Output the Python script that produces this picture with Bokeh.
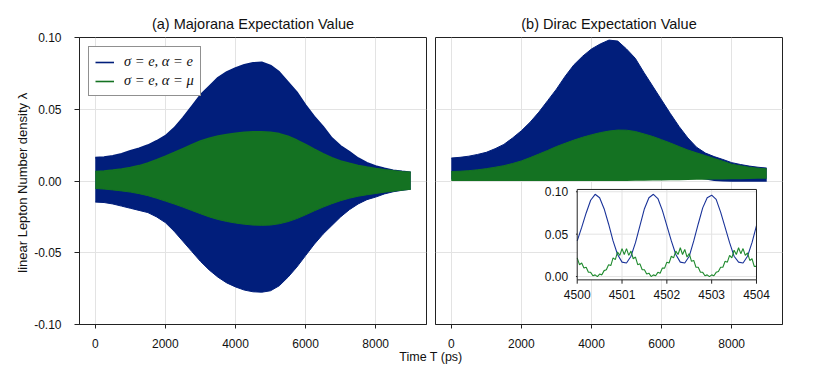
from bokeh.plotting import figure
from bokeh.layouts import row, column
from bokeh.models import Range1d, FixedTicker, Legend, LegendItem, Label
from bokeh.core.properties import value
from bokeh.embed import file_html
from bokeh.resources import INLINE

FONT = "Liberation Sans"
BLUE = "#011e7b"
GREEN = "#147222"
LINE_BLUE = "#1a3399"
LINE_GREEN = "#1f8a2e"
GRID = "#e3e3e3"
FRAME = "#222222"
TXT = "#111111"

# ---- data (envelopes) ----
time_t = [0, 250, 500, 750, 1000, 1250, 1500, 1750, 2000, 2250, 2500, 2750,
          3000, 3250, 3500, 3750, 4000, 4250, 4500, 4750, 5000, 5250, 5500, 5750,
          6000, 6250, 6500, 6750, 7000, 7250, 7500, 7750, 8000, 8250, 8500, 8750, 9000]

# (a) Majorana
maj_ee_upper = [0.0163, 0.0167, 0.0175, 0.019, 0.021, 0.0228, 0.025, 0.028, 0.0315, 0.037,
                0.044, 0.052, 0.060, 0.066, 0.072, 0.076, 0.0788, 0.081, 0.0823, 0.0827,
                0.0805, 0.076, 0.069, 0.062, 0.053, 0.045, 0.038, 0.030, 0.0245, 0.0205,
                0.016, 0.0128, 0.0105, 0.0088, 0.0075, 0.0067, 0.0061]
maj_ee_lower = [-0.0147, -0.015, -0.016, -0.0175, -0.019, -0.0205, -0.022, -0.025, -0.029, -0.035,
                -0.042, -0.049, -0.056, -0.062, -0.067, -0.071, -0.0738, -0.076, -0.0772, -0.0775,
                -0.0765, -0.073, -0.067, -0.060, -0.052, -0.044, -0.037, -0.031, -0.025, -0.020,
                -0.016, -0.013, -0.0112, -0.009, -0.0075, -0.0065, -0.0057]
maj_emu_upper = [0.0066, 0.0070, 0.0076, 0.0084, 0.0094, 0.0107, 0.0125, 0.0148, 0.0172, 0.0198,
                 0.0225, 0.0252, 0.0278, 0.0298, 0.0313, 0.0324, 0.0332, 0.0339, 0.0343, 0.0343,
                 0.0340, 0.0330, 0.0312, 0.0285, 0.0255, 0.0222, 0.0190, 0.0162, 0.0140, 0.0123,
                 0.0108, 0.0097, 0.0087, 0.0078, 0.0071, 0.0065, 0.0060]
maj_emu_lower = [-0.0052, -0.0056, -0.0062, -0.0069, -0.0077, -0.0088, -0.0102, -0.0120, -0.0140, -0.0160,
                 -0.0182, -0.0205, -0.0228, -0.0250, -0.0268, -0.0282, -0.0293, -0.0301, -0.0307, -0.0309,
                 -0.0307, -0.0298, -0.0283, -0.0262, -0.0236, -0.0208, -0.0182, -0.0158, -0.0137, -0.0120,
                 -0.0106, -0.0096, -0.0087, -0.0078, -0.0071, -0.0064, -0.0058]

# (b) Dirac
dir_ee_upper = [0.016, 0.0165, 0.0173, 0.0185, 0.020, 0.0225, 0.0255, 0.030, 0.035, 0.041,
                0.048, 0.056, 0.064, 0.073, 0.081, 0.087, 0.092, 0.0955, 0.0982, 0.0975,
                0.092, 0.0855, 0.0755, 0.066, 0.0565, 0.047, 0.038, 0.030, 0.0235, 0.0195,
                0.017, 0.015, 0.0128, 0.0115, 0.0104, 0.0096, 0.0090]
dir_ee_lower = [0.001, 0.001, 0.001, 0.0015, 0.002, 0.0025, 0.003, 0.004, 0.005, 0.0065,
                0.008, 0.0095, 0.011, 0.012, 0.013, 0.014, 0.015, 0.015, 0.015, 0.015,
                0.014, 0.0125, 0.011, 0.0095, 0.008, 0.0065, 0.005, 0.0035, 0.002, 0.001,
                0.0, -0.0003, -0.0005, -0.0005, -0.0005, -0.0005, -0.0005]
dir_emu_upper = [0.0066, 0.0068, 0.0072, 0.0078, 0.0086, 0.0096, 0.0107, 0.0122, 0.0140, 0.0163,
                 0.0188, 0.0213, 0.0240, 0.0263, 0.0285, 0.0305, 0.0322, 0.0337, 0.0348, 0.0355,
                 0.0354, 0.0345, 0.0328, 0.0310, 0.0288, 0.0265, 0.0240, 0.0216, 0.0196, 0.0177,
                 0.0157, 0.0138, 0.0117, 0.0106, 0.0096, 0.0089, 0.0084]
dir_emu_lower = [0.0, 0.0, 0.0, 0.0, 0.0, 0.0, 0.0, 0.0, 0.0, 0.0,
                 0.0, 0.0, 0.0, 0.0, 0.0, 0.0, 0.0, 0.0, 0.0, 0.0,
                 0.0, 0.0001, 0.0002, 0.0003, 0.0004, 0.0005, 0.0006, 0.0007, 0.0008, 0.0009,
                 0.001, 0.0011, 0.0012, 0.0013, 0.0014, 0.0015, 0.0015]

# inset (zoom of Dirac, T = 4500 .. 4504)
inset_t_ee = [round(4500 + 0.1 * i, 2) for i in range(41)]
inset_ee = [0.042, 0.058, 0.075, 0.090, 0.097, 0.093, 0.080, 0.062, 0.042, 0.026,
            0.017, 0.016, 0.024, 0.040, 0.060, 0.080, 0.093, 0.097, 0.092, 0.078,
            0.060, 0.042, 0.026, 0.017, 0.016, 0.024, 0.042, 0.062, 0.081, 0.093,
            0.096, 0.091, 0.076, 0.058, 0.040, 0.024, 0.017, 0.016, 0.024, 0.040,
            0.060]
inset_t_emu = [round(4500 + 0.05 * i, 2) for i in range(81)]
inset_emu = [0.022, 0.014, 0.016, 0.010, 0.011, 0.005, 0.005, 0.001, 0.002, 0.000,
             0.003, 0.002, 0.007, 0.008, 0.014, 0.013, 0.022, 0.020, 0.029, 0.025,
             0.033, 0.026, 0.033, 0.025, 0.030, 0.021, 0.023, 0.014, 0.015, 0.008,
             0.008, 0.003, 0.004, 0.000, 0.002, 0.001, 0.005, 0.004, 0.010, 0.010,
             0.017, 0.016, 0.024, 0.022, 0.030, 0.026, 0.034, 0.026, 0.032, 0.023,
             0.027, 0.018, 0.019, 0.011, 0.011, 0.005, 0.005, 0.001, 0.002, 0.000,
             0.002, 0.001, 0.005, 0.006, 0.011, 0.011, 0.018, 0.017, 0.025, 0.022,
             0.031, 0.026, 0.034, 0.027, 0.033, 0.025, 0.028, 0.019, 0.021, 0.012,
             0.012]

x_ticks = [0, 2000, 4000, 6000, 8000]
x_tick_labels = ["0", "2000", "4000", "6000", "8000"]
y_ticks = [-0.10, -0.05, 0.0, 0.05, 0.10]
y_tick_labels = ["-0.10", "-0.05", "0.00", "0.05", "0.10"]
inset_x_ticks = [4500, 4501, 4502, 4503, 4504]
inset_x_labels = ["4500", "4501", "4502", "4503", "4504"]
inset_y_ticks = [0.0, 0.05, 0.10]
inset_y_labels = ["0.00", "0.05", "0.10"]

legend_labels = ["σ = e, α = e", "σ = e, α = μ"]
titles = ["(a) Majorana Expectation Value", "(b) Dirac Expectation Value"]
y_label = "linear Lepton Number density  λ"
x_label = "Time T (ps)"

X_RANGE = (-450, 9450)
Y_RANGE = (-0.1, 0.1)
FRAME_W, FRAME_H = 347, 289
TOP, BOTTOM = 37, 24
LEFT1, RIGHT1, LEFT2, RIGHT2 = 79, 4, 5, 8


def make_fig(title, left, right, show_y):
    p = figure(width=left + FRAME_W + right, height=TOP + FRAME_H + BOTTOM,
               x_range=Range1d(*X_RANGE), y_range=Range1d(*Y_RANGE),
               min_border_left=left, min_border_right=right,
               min_border_top=TOP, min_border_bottom=BOTTOM,
               toolbar_location=None, output_backend="svg",
               y_axis_location="left" if show_y else None,
               title=title)
    p.title.align = "center"
    p.title.text_font = FONT
    p.title.text_font_size = "14.5px"
    p.title.text_font_style = "normal"
    p.title.text_color = TXT
    p.title.standoff = 12
    p.outline_line_color = FRAME
    p.outline_line_width = 1
    p.background_fill_color = "white"
    p.border_fill_color = "white"

    xa = p.xaxis[0]
    xa.ticker = FixedTicker(ticks=x_ticks)
    xa.major_label_overrides = dict(zip(x_ticks, x_tick_labels))
    xa.major_tick_out = 4
    xa.major_tick_in = 0
    xa.minor_tick_out = 0
    xa.minor_tick_in = 0
    xa.axis_line_color = FRAME
    xa.major_tick_line_color = FRAME
    xa.major_label_text_font = FONT
    xa.major_label_text_font_size = "12px"
    xa.major_label_text_color = TXT
    xa.major_label_standoff = 10

    p.xgrid.ticker = FixedTicker(ticks=x_ticks)
    p.ygrid.ticker = FixedTicker(ticks=y_ticks)
    p.grid.grid_line_color = GRID
    p.grid.grid_line_width = 1

    if show_y:
        ya = p.yaxis[0]
        ya.ticker = FixedTicker(ticks=y_ticks)
        ya.major_label_overrides = {t: l for t, l in zip(y_ticks, y_tick_labels)}
        ya.major_tick_out = 5
        ya.major_tick_in = 0
        ya.minor_tick_out = 0
        ya.minor_tick_in = 0
        ya.axis_line_color = FRAME
        ya.major_tick_line_color = FRAME
        ya.major_label_text_font = FONT
        ya.major_label_text_font_size = "12px"
        ya.major_label_text_color = TXT
        ya.major_label_standoff = 13
        ya.axis_label = y_label
        ya.axis_label_text_font = FONT
        ya.axis_label_text_font_size = "13px"
        ya.axis_label_text_font_style = "normal"
        ya.axis_label_text_color = TXT
        ya.axis_label_standoff = 1
    return p


# ---- panel (a) ----
p1 = make_fig(titles[0], LEFT1, RIGHT1, True)
p1.varea(x=time_t, y1=maj_ee_lower, y2=maj_ee_upper, fill_color=BLUE)
leg1 = p1.line(x=time_t, y=maj_ee_upper, line_color=BLUE, line_width=1.6)
p1.line(x=time_t, y=maj_ee_lower, line_color=BLUE, line_width=1)
p1.varea(x=time_t, y1=maj_emu_lower, y2=maj_emu_upper, fill_color=GREEN)
leg2 = p1.line(x=time_t, y=maj_emu_upper, line_color=GREEN, line_width=1.6)
p1.line(x=time_t, y=maj_emu_lower, line_color=GREEN, line_width=1)
legend = Legend(items=[LegendItem(label=legend_labels[0], renderers=[leg1]),
                       LegendItem(label=legend_labels[1], renderers=[leg2])],
                location="top_left")
legend.margin = 9
legend.padding = 6
legend.spacing = 2
legend.glyph_width = 19
legend.glyph_height = 14
legend.label_standoff = 10
legend.label_height = 14
legend.label_text_font = "Liberation Serif"
legend.label_text_font_style = "italic"
legend.label_text_font_size = "14.5px"
legend.label_text_color = TXT
legend.border_line_color = FRAME
legend.border_line_width = 1
legend.background_fill_alpha = 1.0
p1.add_layout(legend, "center")

# ---- panel (b) ----
p2 = make_fig(titles[1], LEFT2, RIGHT2, False)
p2.varea(x=time_t, y1=dir_ee_lower, y2=dir_ee_upper, fill_color=BLUE)
p2.line(x=time_t, y=dir_ee_upper, line_color=BLUE, line_width=1)
p2.varea(x=time_t, y1=dir_emu_lower, y2=dir_emu_upper, fill_color=GREEN)
p2.line(x=time_t, y=dir_emu_upper, line_color=GREEN, line_width=1)

# inset placed in panel (b) data space
in_x = (4500, 4504)
in_y = (-0.0039, 0.1027)
ins = p2.subplot(x_source=Range1d(*in_x), y_source=Range1d(*in_y),
                 x_target=Range1d(3593, 8708), y_target=Range1d(-0.0689, -0.0059))
ins.quad(left=[in_x[0]], right=[in_x[1]], bottom=[in_y[0]], top=[in_y[1]],
         fill_color="white", line_color=None)
ins.segment(x0=inset_x_ticks[1:-1], x1=inset_x_ticks[1:-1],
            y0=[in_y[0]] * 3, y1=[in_y[1]] * 3, line_color=GRID, line_width=1)
ins.segment(x0=[in_x[0]] * 3, x1=[in_x[1]] * 3,
            y0=inset_y_ticks, y1=inset_y_ticks, line_color=GRID, line_width=1)
ins.line(x=inset_t_ee, y=inset_ee, line_color=LINE_BLUE, line_width=1.1)
ins.line(x=inset_t_emu, y=inset_emu, line_color=LINE_GREEN, line_width=1.1)
ins.quad(left=[in_x[0]], right=[in_x[1]], bottom=[in_y[0]], top=[in_y[1]],
         fill_color=None, line_color=FRAME, line_width=1)
tick_dy = 0.0045
tick_dx = 0.028
ins.segment(x0=inset_x_ticks, x1=inset_x_ticks,
            y0=[in_y[0]] * 5, y1=[in_y[0] - tick_dy] * 5, line_color=FRAME)
ins.segment(x0=[in_x[0]] * 3, x1=[in_x[0] - tick_dx] * 3,
            y0=inset_y_ticks, y1=inset_y_ticks, line_color=FRAME)
ins.text(x=inset_x_ticks, y=[in_y[0]] * 5, text=inset_x_labels,
         text_align="center", text_baseline="top", y_offset=10,
         text_font=value(FONT), text_font_size="12px", text_color=TXT)
ins.text(x=[in_x[0]] * 3, y=inset_y_ticks, text=inset_y_labels,
         text_align="right", text_baseline="middle", x_offset=-9,
         text_font=value(FONT), text_font_size="12px", text_color=TXT)

# ---- shared x label ----
P3_H = 16
p3 = figure(width=p1.width + p2.width, height=P3_H, x_range=Range1d(0, 1), y_range=Range1d(0, 1),
            x_axis_location=None, y_axis_location=None, min_border=0,
            toolbar_location=None, output_backend="svg")
p3.outline_line_color = None
p3.grid.visible = False
p3.add_layout(Label(x=LEFT1 + (FRAME_W * 2 + RIGHT1 + LEFT2) / 2, y=P3_H - 6,
                    x_units="screen", y_units="screen",
                    text=x_label, text_align="center", text_baseline="middle",
                    text_font=FONT, text_font_size="12.5px", text_color=TXT))

layout = column(row(p1, p2), p3)
open("out.html", "w").write(file_html(layout, INLINE))
